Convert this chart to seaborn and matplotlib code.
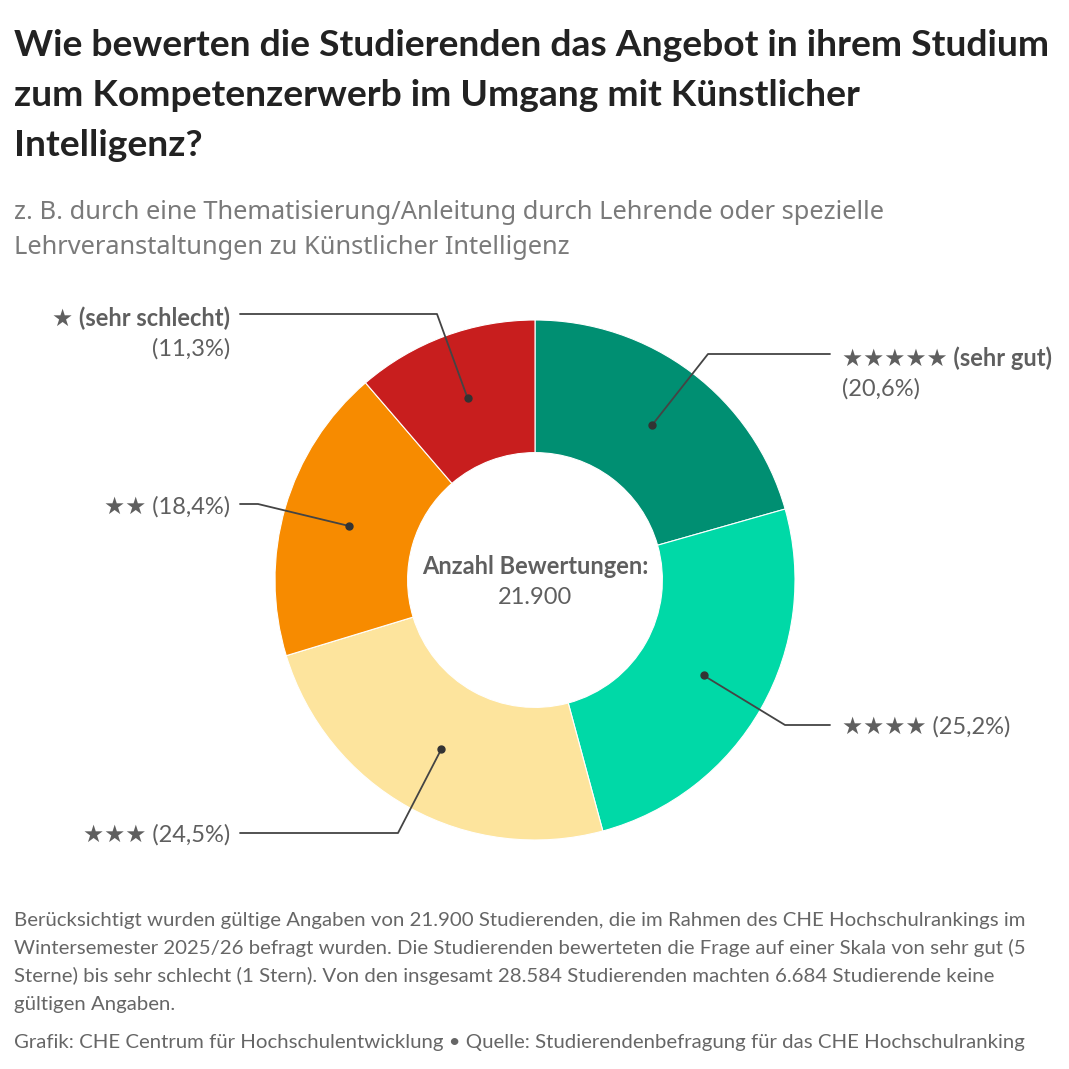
import matplotlib
matplotlib.use("Agg")
from matplotlib import pyplot as plt
import numpy as np
import seaborn as sns

# Daten
kategorien = ["★★★★★", "★★★★", "★★★", "★★", "★"]
zusatz = ["(sehr gut)", "", "", "", "(sehr schlecht)"]
anteile = [20.6, 25.2, 24.5, 18.4, 11.3]
farben = ["#008f72", "#00d9a7", "#fde49d", "#f78b00", "#c81e1e"]
anzahl = "21.900"

sns.set_theme(style="white")
plt.rcParams['font.family'] = ['Lato', 'DejaVu Sans']

W = 1069
fig = plt.figure(figsize=(W / 100, W / 100), dpi=100)


def px(x, y):
    return x / W, 1 - y / W


# Donut: Mitte (535, 580), Radius 260 px
cx, cy, R = 535, 580, 260
ax = fig.add_axes([(cx - R) / W, 1 - (cy + R) / W, 2 * R / W, 2 * R / W])
wedges, _ = ax.pie(anteile, colors=farben, startangle=90, counterclock=False,
                   radius=1, wedgeprops=dict(width=0.51, edgecolor="white", linewidth=0.8))
ax.set_xlim(-1, 1)
ax.set_ylim(-1, 1)
ax.set_aspect("equal")
ax.axis("off")

# Beschriftungen (Knick, Ende, Textposition in Pixeln)
layout = [
    ((708, 354), (830, 354), (842, 358), "left"),
    ((785, 725), (830, 725), (842, 727), "left"),
    ((398, 833), (240, 833), (230, 835), "right"),
    ((258, 504), (240, 504), (230, 507), "right"),
    ((437, 314), (240, 314), (230, 318), "right"),
]


def to_data(p):
    return (p[0] - cx) / R, (cy - p[1]) / R


r_mid = 1 - 0.51 / 2
kum = np.cumsum([0] + anteile)
txt_col = "#5f5f5f"
for i, w in enumerate(anteile):
    mitte = (kum[i] + w / 2) / 100 * 2 * np.pi
    dx, dy = r_mid * np.sin(mitte), r_mid * np.cos(mitte)
    knick, ende, tpos, ha = layout[i]
    kx, ky = to_data(knick)
    ex, ey = to_data(ende)
    ax.plot([dx, kx, ex], [dy, ky, ey], color="#444444", lw=1.3, clip_on=False)
    ax.plot(dx, dy, "o", color="#333333", ms=5, clip_on=False)
    prozent = f"({w:.1f}%)".replace(".", ",")
    if zusatz[i]:
        fig.text(*px(*tpos), f"{kategorien[i]} {zusatz[i]}", ha=ha, va="center",
                 fontsize=17, fontweight="bold", color=txt_col)
        fig.text(*px(tpos[0], tpos[1] + 31), prozent, ha=ha, va="center",
                 fontsize=17, color=txt_col)
    else:
        fig.text(*px(*tpos), f"{kategorien[i]} {prozent}", ha=ha, va="center",
                 fontsize=17, color=txt_col)

# Mitte
fig.text(*px(535, 567), "Anzahl Bewertungen:", ha="center", va="center",
         fontsize=17, fontweight="bold", color=txt_col)
fig.text(*px(535, 598), anzahl, ha="center", va="center", fontsize=17, color=txt_col)

# Titel
titel = ["Wie bewerten die Studierenden das Angebot in ihrem Studium",
         "zum Kompetenzerwerb im Umgang mit Künstlicher",
         "Intelligenz?"]
for j, zeile in enumerate(titel):
    fig.text(*px(14, 56 + j * 50), zeile, ha="left", va="baseline",
             fontsize=26.8, fontweight="bold", color="#222222")

untertitel = ["z. B. durch eine Thematisierung/Anleitung durch Lehrende oder spezielle",
              "Lehrveranstaltungen zu Künstlicher Intelligenz"]
for j, zeile in enumerate(untertitel):
    fig.text(*px(14, 219 + j * 35), zeile, ha="left", va="baseline",
             fontsize=18.3, color="#7a7a7a", family=["Noto Sans", "DejaVu Sans"])

fussnote = ["Berücksichtigt wurden gültige Angaben von 21.900 Studierenden, die im Rahmen des CHE Hochschulrankings im",
            "Wintersemester 2025/26 befragt wurden. Die Studierenden bewerteten die Frage auf einer Skala von sehr gut (5",
            "Sterne) bis sehr schlecht (1 Stern). Von den insgesamt 28.584 Studierenden machten 6.684 Studierende keine",
            "gültigen Angaben."]
for j, zeile in enumerate(fussnote):
    fig.text(*px(14, 926 + j * 28), zeile, ha="left", va="baseline",
             fontsize=14.7, color="#666666")
fig.text(*px(14, 1048), "Grafik: CHE Centrum für Hochschulentwicklung • Quelle: Studierendenbefragung für das CHE Hochschulranking",
         ha="left", va="baseline", fontsize=14.7, color="#666666")

fig.savefig("out.png", dpi=100, facecolor="white")
